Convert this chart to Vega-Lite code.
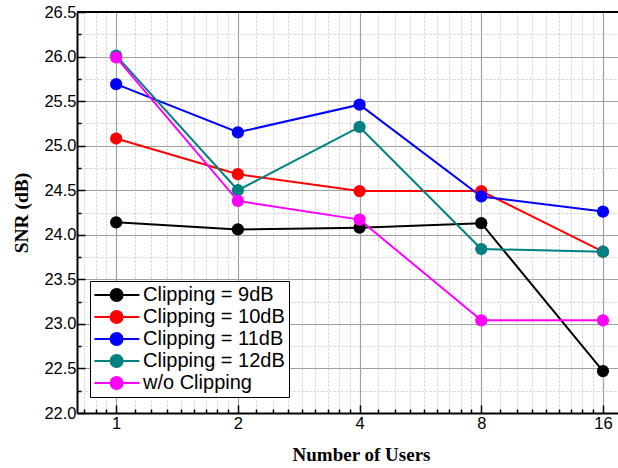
{
  "$schema": "https://vega.github.io/schema/vega-lite/v6.json",
  "autosize": {"type": "none"},
  "padding": {"left": 77, "top": 12, "right": 0, "bottom": 55},
  "width": 541,
  "height": 401,
  "background": "white",
  "config": {
    "view": {"stroke": null},
    "font": "Liberation Sans"
  },
  "data": {
    "values": [
      {"users": 1, "snr": 24.14, "series": "Clipping = 9dB"},
      {"users": 2, "snr": 24.06, "series": "Clipping = 9dB"},
      {"users": 4, "snr": 24.08, "series": "Clipping = 9dB"},
      {"users": 8, "snr": 24.13, "series": "Clipping = 9dB"},
      {"users": 16, "snr": 22.47, "series": "Clipping = 9dB"},
      {"users": 1, "snr": 25.08, "series": "Clipping = 10dB"},
      {"users": 2, "snr": 24.68, "series": "Clipping = 10dB"},
      {"users": 4, "snr": 24.49, "series": "Clipping = 10dB"},
      {"users": 8, "snr": 24.49, "series": "Clipping = 10dB"},
      {"users": 16, "snr": 23.81, "series": "Clipping = 10dB"},
      {"users": 1, "snr": 25.69, "series": "Clipping = 11dB"},
      {"users": 2, "snr": 25.15, "series": "Clipping = 11dB"},
      {"users": 4, "snr": 25.46, "series": "Clipping = 11dB"},
      {"users": 8, "snr": 24.43, "series": "Clipping = 11dB"},
      {"users": 16, "snr": 24.26, "series": "Clipping = 11dB"},
      {"users": 1, "snr": 26.01, "series": "Clipping = 12dB"},
      {"users": 2, "snr": 24.50, "series": "Clipping = 12dB"},
      {"users": 4, "snr": 25.21, "series": "Clipping = 12dB"},
      {"users": 8, "snr": 23.84, "series": "Clipping = 12dB"},
      {"users": 16, "snr": 23.81, "series": "Clipping = 12dB"},
      {"users": 1, "snr": 25.99, "series": "w/o Clipping"},
      {"users": 2, "snr": 24.38, "series": "w/o Clipping"},
      {"users": 4, "snr": 24.17, "series": "w/o Clipping"},
      {"users": 8, "snr": 23.04, "series": "w/o Clipping"},
      {"users": 16, "snr": 23.04, "series": "w/o Clipping"}
    ]
  },
  "encoding": {
    "x": {
      "field": "users",
      "type": "quantitative",
      "scale": {"type": "log", "base": 2, "domain": [0.8, 17.43], "nice": false, "zero": false},
      "axis": {
        "title": "Number of Users",
        "titleFont": "Liberation Serif",
        "titleFontWeight": "bold",
        "titleFontSize": 19,
        "titleColor": "black",
        "titleX": 284,
        "titleY": 47,
        "titleBaseline": "alphabetic",
        "titleAnchor": null,
        "values": [0.8333, 0.8889, 0.9444, 1, 1.1111, 1.2222, 1.3333, 1.4444, 1.5556, 1.6667, 1.7778, 1.8889, 2, 2.2222, 2.4444, 2.6667, 2.8889, 3.1111, 3.3333, 3.5556, 3.7778, 4, 4.4444, 4.8889, 5.3333, 5.7778, 6.2222, 6.6667, 7.1111, 7.5556, 8, 8.8889, 9.7778, 10.6667, 11.5556, 12.4444, 13.3333, 14.2222, 15.1111, 16],
        "labelExpr": "indexof([1,2,4,8,16], datum.value) >= 0 ? datum.value : ''",
        "labelOverlap": false,
        "labelFlush": false,
        "labelFontSize": 16.5,
        "labelColor": "black",
        "labelPadding": 10,
        "domainColor": "black",
        "domainWidth": 2,
        "tickColor": "black",
        "tickWidth": 1.5,
        "tickSize": {"condition": {"test": "indexof([1,2,4,8,16], datum.value) >= 0", "value": -8}, "value": -4},
        "grid": true,
        "gridColor": {"condition": {"test": "indexof([1,2,4,8,16], datum.value) >= 0", "value": "#a0a0a0"}, "value": "#cccccc"},
        "gridDash": {"condition": {"test": "indexof([1,2,4,8,16], datum.value) >= 0", "value": []}, "value": [2, 2]},
        "gridWidth": {"condition": {"test": "indexof([1,2,4,8,16], datum.value) >= 0", "value": 1.2}, "value": 1}
      }
    },
    "y": {
      "field": "snr",
      "type": "quantitative",
      "scale": {"domain": [22, 26.5], "nice": false, "zero": false},
      "axis": {
        "title": "SNR (dB)",
        "titleFont": "Liberation Serif",
        "titleFontWeight": "bold",
        "titleFontSize": 19.5,
        "titleColor": "black",
        "titlePadding": 12,
        "values": [22, 22.25, 22.5, 22.75, 23, 23.25, 23.5, 23.75, 24, 24.25, 24.5, 24.75, 25, 25.25, 25.5, 25.75, 26, 26.25, 26.5],
        "labelExpr": "datum.value % 0.5 == 0 ? format(datum.value, '.1f') : ''",
        "labelOverlap": false,
        "labelFlush": false,
        "labelFontSize": 16.5,
        "labelColor": "black",
        "labelPadding": 9,
        "domainColor": "black",
        "domainWidth": 2,
        "tickColor": "black",
        "tickWidth": 1.5,
        "tickSize": {"condition": {"test": "datum.value % 0.5 == 0", "value": -8}, "value": -4},
        "grid": true,
        "gridColor": {"condition": {"test": "datum.value % 0.5 == 0", "value": "#a0a0a0"}, "value": "#cccccc"},
        "gridDash": {"condition": {"test": "datum.value % 0.5 == 0", "value": []}, "value": [2, 2]},
        "gridWidth": {"condition": {"test": "datum.value % 0.5 == 0", "value": 1.2}, "value": 1}
      }
    },
    "color": {
      "field": "series",
      "type": "nominal",
      "sort": null,
      "scale": {
        "domain": ["Clipping = 9dB", "Clipping = 10dB", "Clipping = 11dB", "Clipping = 12dB", "w/o Clipping"],
        "range": ["#000000", "#ff0000", "#0000ff", "#008080", "#ff00ff"]
      },
      "legend": {
        "title": null,
        "orient": "none",
        "legendX": 13,
        "legendY": 269,
        "padding": 4,
        "strokeColor": "black",
        "fillColor": "white",
        "rowPadding": 2,
        "labelFontSize": 20,
        "labelColor": "black",
        "labelOffset": 29,
        "symbolSize": 144,
        "symbolStrokeWidth": 2,
        "symbolType": "M-1.6,0H5.9M1.1,0a1,1 0 1,0 2,0a1,1 0 1,0 -2,0",
        "encode": {
          "symbols": {
            "update": {
              "fill": {"scale": "color", "field": "value"},
              "stroke": {"scale": "color", "field": "value"},
              "fillOpacity": {"value": 1},
              "strokeWidth": {"value": 2}
            }
          }
        }
      }
    }
  },
  "layer": [
    {
      "mark": {"type": "line", "strokeWidth": 2}
    },
    {
      "mark": {"type": "circle", "size": 150, "opacity": 1}
    },
    {
      "mark": {"type": "rule", "color": "black", "strokeWidth": 2},
      "encoding": {"y": {"datum": 26.5}, "x": null, "color": null}
    }
  ]
}
